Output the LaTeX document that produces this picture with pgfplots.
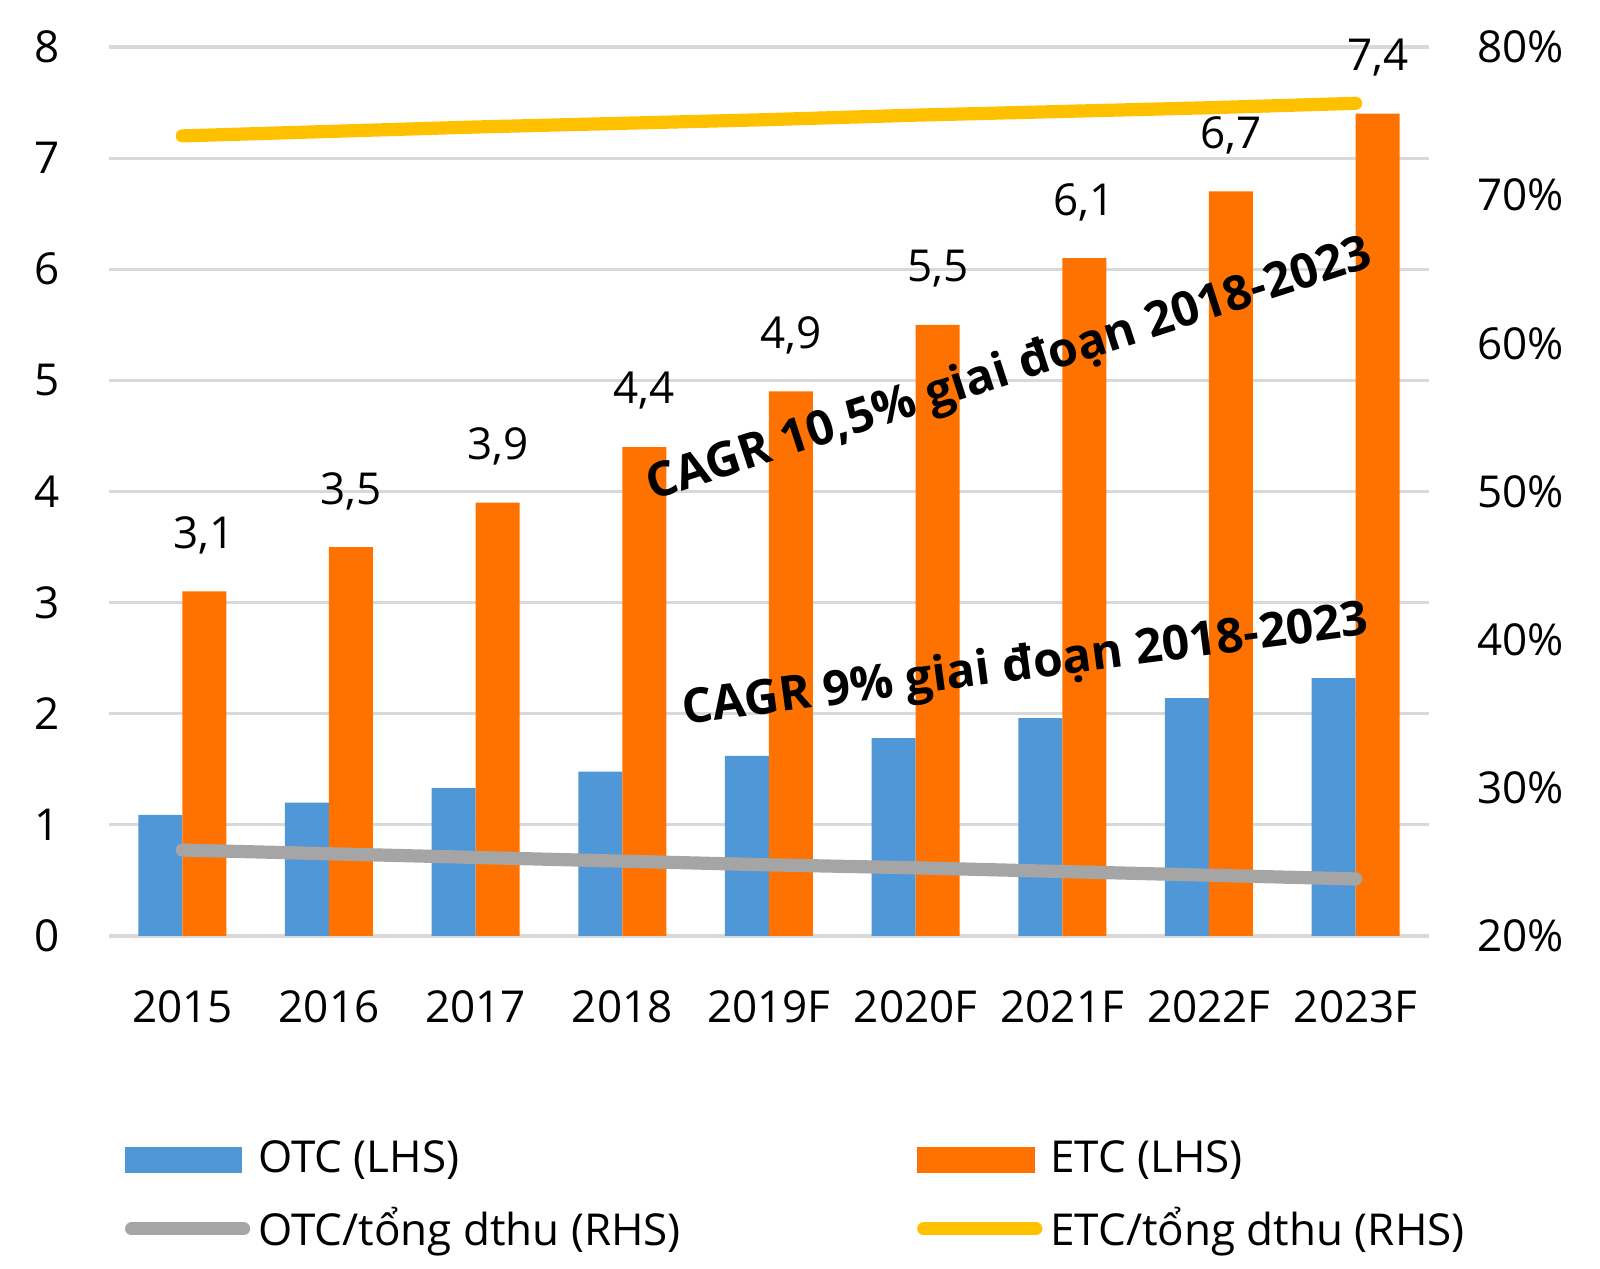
\documentclass[border=0pt]{standalone}
\usepackage{fontspec}
\setmainfont{Open Sans}
\usepackage{pgfplots}
\pgfplotsset{compat=1.18}
\definecolor{otcblue}{HTML}{4F97D7}
\definecolor{etcorange}{HTML}{FF7200}
\definecolor{otcgray}{HTML}{A5A5A5}
\definecolor{etcyellow}{HTML}{FFC000}
\definecolor{gridgray}{HTML}{D9D9D9}
\pgfplotsset{
  lineleg/.style={legend image code/.code={\draw[##1] (1.5pt,0pt) -- (29.5pt,0pt);}},
  otcleg/.style={legend image code/.code={\fill[otcblue] (0pt,-3.1pt) rectangle (29pt,3.1pt);}},
  etcleg/.style={legend image code/.code={\fill[etcorange] (0pt,-3.1pt) rectangle (29pt,3.1pt);}},
}
\begin{document}
\begin{tikzpicture}
\useasboundingbox (-27.25pt,-83.25pt) rectangle (372.75pt,234pt);
\begin{axis}[
  at={(0pt,0pt)}, anchor=south west,
  width=330pt, height=222.25pt, scale only axis,
  xmin=-0.5, xmax=8.5, ymin=0, ymax=8,
  ybar=0pt, bar width=11pt,
  xtick={0,...,8},
  xticklabels={2015,2016,2017,2018,2019F,2020F,2021F,2022F,2023F},
  ytick={0,...,8},
  ymajorgrids, grid style={gridgray, line width=0.8pt},
  axis line style={draw=none},
  tick style={draw=none},
  major tick length=0pt,
  /pgf/number format/assume math mode=true,
  tick label style={font=\fontsize{11}{13}\selectfont},
  yticklabel style={xshift=-8.7pt},
  xticklabel style={yshift=-10pt},
  clip=false,
]
\addplot[fill=otcblue, draw=none] coordinates {(0,1.09) (1,1.2) (2,1.33) (3,1.48) (4,1.62) (5,1.78) (6,1.96) (7,2.14) (8,2.32)};
\addplot[fill=etcorange, draw=none, nodes near coords,
  every node near coord/.append style={anchor=center, yshift=14pt, font=\fontsize{11}{13}\selectfont, text=black},
  /pgf/number format/.cd, use comma, fixed, fixed zerofill, precision=1, assume math mode=true]
  coordinates {(0,3.1) (1,3.5) (2,3.9) (3,4.4) (4,4.9) (5,5.5) (6,6.1) (7,6.7) (8,7.4)};
\node[rotate=18, font=\bfseries\fontsize{12}{14}\selectfont] at (axis cs:5.64,5.08) {CAGR 10,5\% giai đoạn 2018-2023};
\node[rotate=7.5, font=\bfseries\fontsize{12}{14}\selectfont] at (axis cs:5.75,2.42) {CAGR 9\% giai đoạn 2018-2023};
\end{axis}
\begin{axis}[
  at={(0pt,0pt)}, anchor=south west,
  width=330pt, height=222.25pt, scale only axis,
  xmin=-0.5, xmax=8.5, ymin=20, ymax=80,
  axis y line*=right, hide x axis,
  axis line style={draw=none}, tick style={draw=none}, major tick length=0pt,
  ytick={20,30,...,80},
  yticklabel={\pgfmathprintnumber{\tick}\%},
  /pgf/number format/assume math mode=true,
  yticklabel style={xshift=8.5pt, font=\fontsize{11}{13}\selectfont},
  legend columns=2,
  legend cell align=left,
  legend style={at={(0,0)}, anchor=north west, xshift=3.75pt, yshift=-49pt,
    draw=none, fill=none, inner sep=0pt, font=\fontsize{11}{13}\selectfont,
    row sep=3pt,
    /tikz/every even column/.append style={column sep=57pt}},
  clip=false,
]
\addlegendimage{otcleg}
\addlegendentry{OTC (LHS)}
\addlegendimage{etcleg}
\addlegendentry{ETC (LHS)}
\addplot[otcgray, line width=3.3pt, line cap=round, mark=none, lineleg]
  coordinates {(0,25.8) (1,25.55) (2,25.3) (3,25.05) (4,24.8) (5,24.6) (6,24.35) (7,24.1) (8,23.85)};
\addlegendentry{OTC/tổng dthu (RHS)}
\addplot[etcyellow, line width=3.3pt, line cap=round, mark=none, lineleg]
  coordinates {(0,74.0) (1,74.3) (2,74.6) (3,74.85) (4,75.1) (5,75.4) (6,75.65) (7,75.9) (8,76.2)};
\addlegendentry{ETC/tổng dthu (RHS)}
\end{axis}
\end{tikzpicture}
\end{document}
